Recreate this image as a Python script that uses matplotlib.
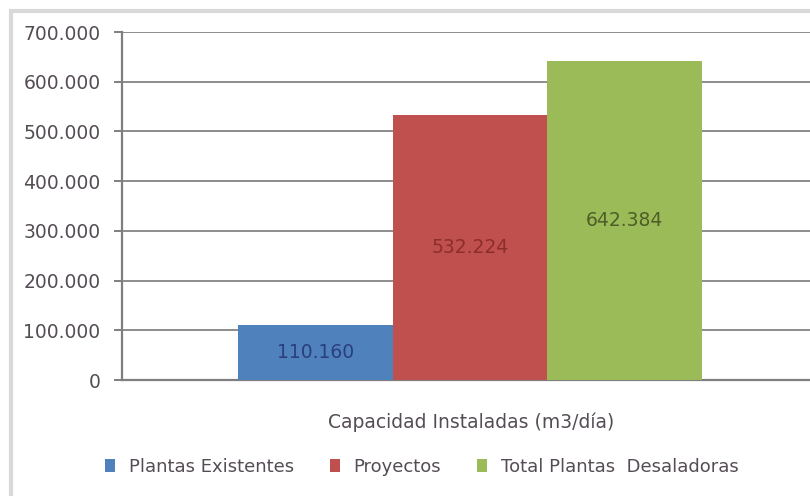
import matplotlib
matplotlib.use("Agg")
import matplotlib.pyplot as plt
from matplotlib.patches import Rectangle, Patch
from matplotlib.ticker import FuncFormatter

category = "Capacidad Instaladas (m3/día)"
series = ["Plantas Existentes", "Proyectos", "Total Plantas  Desaladoras"]
values = [110160, 532224, 642384]
colors = ["#4F81BD", "#C0504D", "#9BBB59"]
label_colors = ["#2B3F7A", "#8E2E2C", "#4E5E27"]
yticks = [0, 100000, 200000, 300000, 400000, 500000, 600000, 700000]

plt.rcParams["font.family"] = ["DejaVu Sans"]
text_color = "#554D55"

W, H = 810, 496
fig = plt.figure(figsize=(W / 100, H / 100), dpi=100)
fig.patch.set_facecolor("white")

# light outer frame of the chart area
fig.patches.append(Rectangle((11 / W, -0.1), 1.2, (H - 11) / H + 0.1,
                             transform=fig.transFigure, fill=False,
                             edgecolor="#D9D9D9", linewidth=3))

ax_left, ax_right = 122, 818
ax_top, ax_bottom = 32, 380
ax = fig.add_axes([ax_left / W, 1 - ax_bottom / H,
                   (ax_right - ax_left) / W, (ax_bottom - ax_top) / H])
ax.set_clip_on(False)

bar_w = 0.222
offsets = [-bar_w, 0, bar_w]
for s, v, c, lc, o in zip(series, values, colors, label_colors, offsets):
    ax.bar(o, v, width=bar_w, color=c, zorder=3, label=s)
    txt = f"{v:,}".replace(",", ".")
    ax.text(o, v / 2, txt, ha="center", va="center", fontsize=13.5,
            color=lc, zorder=4)

ax.set_xlim(-0.5, 0.5)
ax.set_ylim(0, 700000)
ax.set_yticks(yticks)
ax.yaxis.set_major_formatter(FuncFormatter(
    lambda v, p: "0" if v == 0 else f"{int(v):,}".replace(",", ".")))
ax.set_xticks([])
ax.grid(axis="y", color="#8C8C8C", linewidth=1.4, zorder=1)
for side in ["top", "right"]:
    ax.spines[side].set_visible(False)
ax.spines["left"].set_color("#7F7F7F")
ax.spines["left"].set_linewidth(1.6)
ax.spines["bottom"].set_color("#7F7F7F")
ax.spines["bottom"].set_linewidth(1.6)
ax.tick_params(axis="y", length=5.5, width=1.4, color="#7F7F7F",
               labelsize=13.5, labelcolor=text_color, pad=10)

fig.text(471 / W, 1 - 422 / H, category, ha="center", va="center",
         fontsize=13.5, color=text_color)

handles = [Patch(facecolor=c, edgecolor="none") for c in colors]
fig.legend(handles, series, loc="center", bbox_to_anchor=(422 / W, 1 - 467 / H),
           ncol=3, frameon=False, fontsize=13, labelcolor=text_color,
           handlelength=0.55, handleheight=0.75, handletextpad=0.75,
           columnspacing=2.0)

fig.savefig("out.png", dpi=100)
